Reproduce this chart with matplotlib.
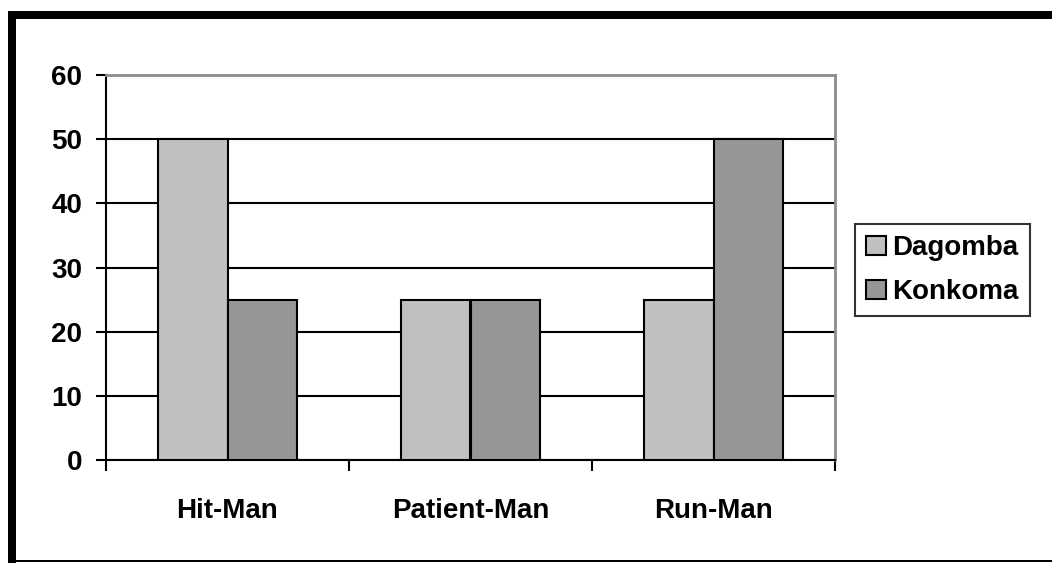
import numpy as np
import matplotlib.pyplot as plt
from matplotlib.patches import Rectangle

categories = ['Hit-Man', 'Patient-Man', 'Run-Man']
dagomba = [50, 25, 25]
konkoma = [25, 25, 50]
series_names = ['Dagomba', 'Konkoma']
y_ticks = [0, 10, 20, 30, 40, 50, 60]

plt.rcParams['font.family'] = ['Liberation Sans', 'DejaVu Sans']
plt.rcParams['font.weight'] = 'bold'

W, H = 1052, 563
fig = plt.figure(figsize=(W / 100, H / 100), dpi=100)

# black frame around the chart (left, top thick; bottom thin)
fig.patches.append(Rectangle((8 / W, 0), 8 / W, 1 - 11 / H, transform=fig.transFigure,
                             facecolor='black', edgecolor='none'))
fig.patches.append(Rectangle((8 / W, 1 - 19 / H), 1 - 8 / W, 8 / H, transform=fig.transFigure,
                             facecolor='black', edgecolor='none'))
fig.patches.append(Rectangle((8 / W, 1 / H), 1 - 8 / W, 2 / H, transform=fig.transFigure,
                             facecolor='black', edgecolor='none'))

ax = fig.add_axes([106 / W, 1 - 460 / H, (835 - 106) / W, (460 - 75) / H])

x = np.arange(len(categories))
w = 0.286
ax.bar(x - w / 2, dagomba, w, color='#c0c0c0', edgecolor='black', linewidth=1.5,
       label=series_names[0], zorder=3)
ax.bar(x + w / 2, konkoma, w, color='#969696', edgecolor='black', linewidth=1.5,
       label=series_names[1], zorder=3)

ax.set_xlim(-0.5, 2.5)
ax.set_ylim(0, 60)
ax.set_yticks(y_ticks)
ax.yaxis.grid(True, color='black', linewidth=1.5, zorder=1)
ax.set_axisbelow(True)

ax.set_xticks(x)
ax.set_xticklabels(categories, fontsize=20, fontweight='bold')
ax.set_xticks([-0.5, 0.5, 1.5, 2.5], minor=True)
ax.tick_params(axis='x', which='major', length=0, pad=27)
ax.tick_params(axis='x', which='minor', length=8, width=1.5, direction='out', color='black')
ax.tick_params(axis='y', length=7, width=1.5, direction='out', labelsize=20, pad=10)
for lab in ax.get_yticklabels():
    lab.set_fontweight('bold')

ax.spines['left'].set_linewidth(1.5)
ax.spines['bottom'].set_linewidth(1.5)
ax.spines['top'].set_color('#8c8c8c')
ax.spines['right'].set_color('#8c8c8c')
ax.spines['top'].set_linewidth(2)
ax.spines['right'].set_linewidth(2)

leg = ax.legend(loc='center left', bbox_to_anchor=(855 / W, 1 - 270 / H),
                bbox_transform=fig.transFigure, frameon=True, fancybox=False,
                edgecolor='black', prop={'weight': 'bold', 'size': 20},
                handlelength=0.7, handleheight=0.7, handletextpad=0.25,
                borderpad=0.4, labelspacing=0.65, borderaxespad=0)
leg.get_frame().set_linewidth(1.5)

fig.savefig('out.png', dpi=100)
